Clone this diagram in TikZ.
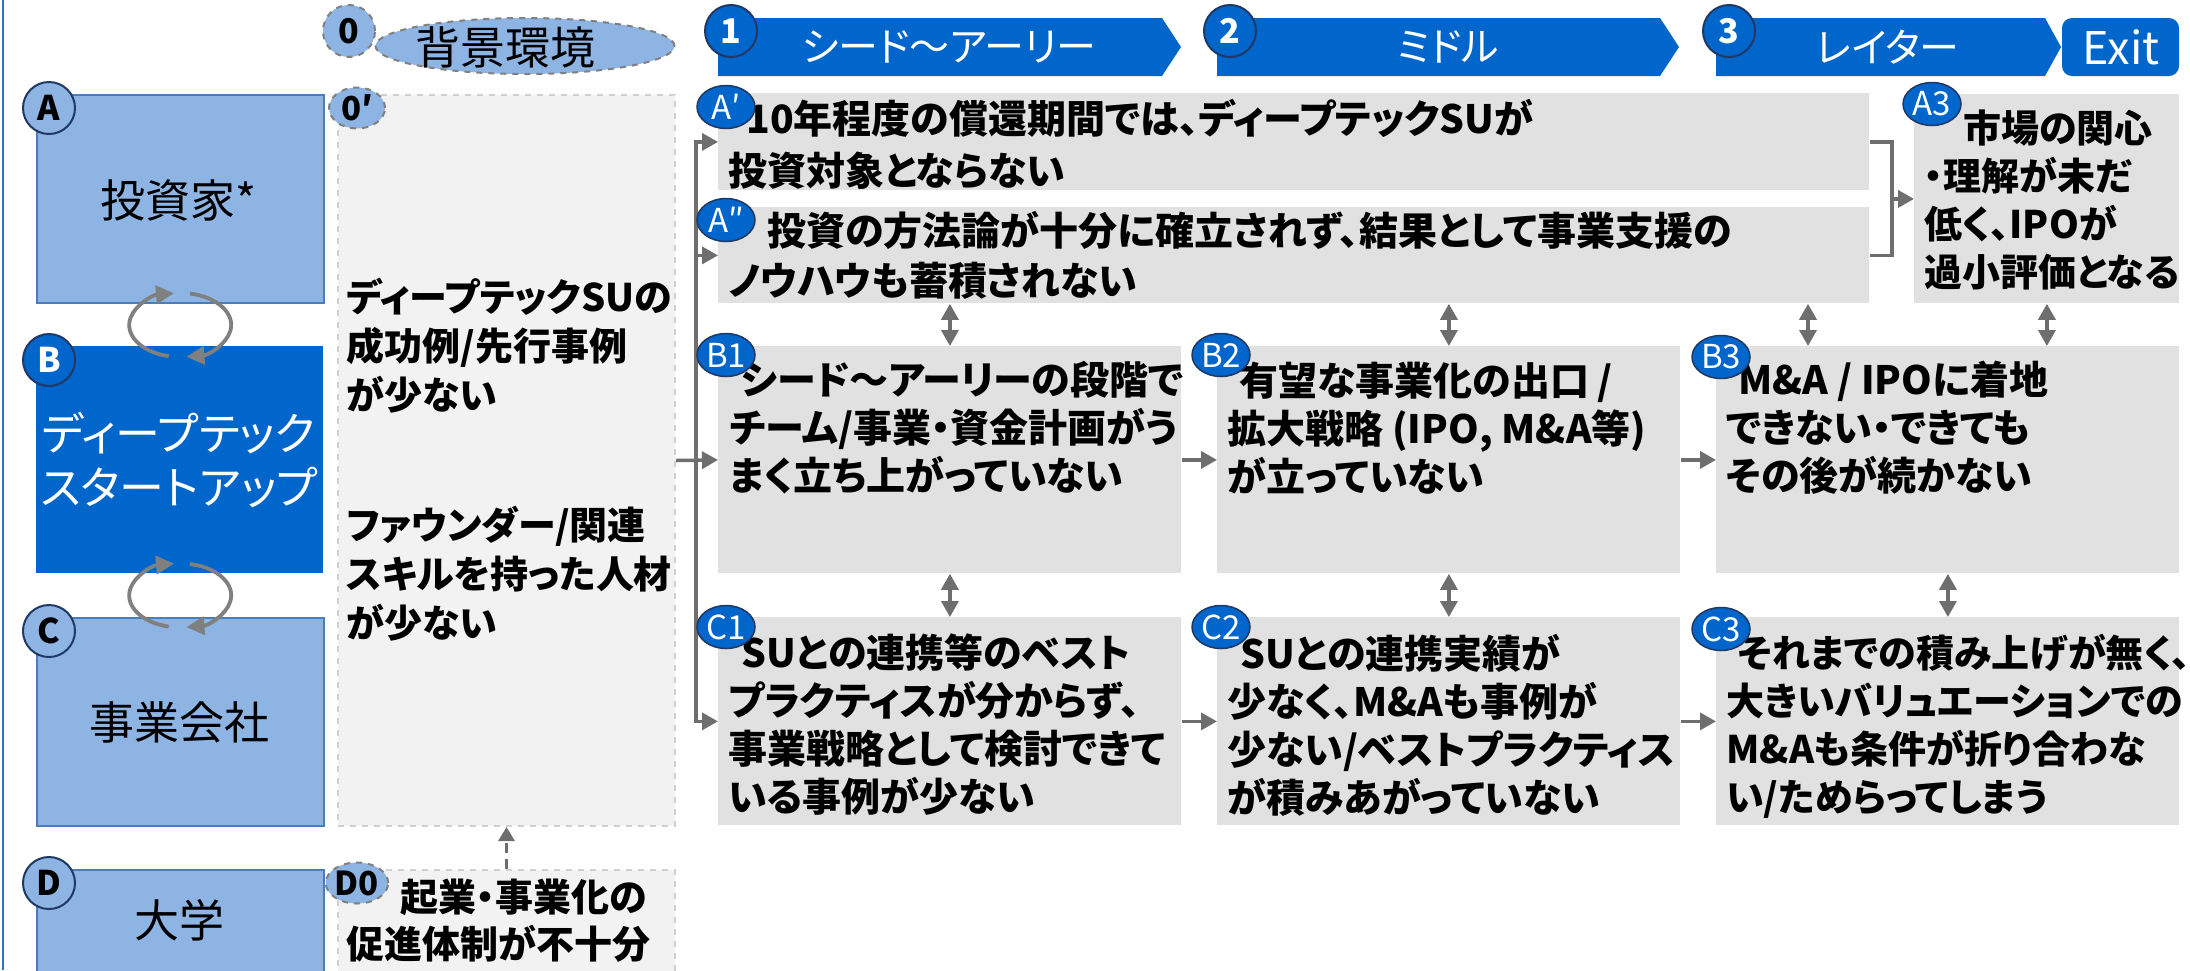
\documentclass[tikz,border=0pt]{standalone}
\usepackage{fontspec}
\setmainfont{Noto Sans CJK JP}[RawFeature=+palt]
\usetikzlibrary{arrows.meta,shapes.geometric,calc}
\definecolor{dblue}{HTML}{0066CC}
\definecolor{lblue}{HTML}{8EB4E3}
\definecolor{bordblue}{HTML}{4A7EBB}
\definecolor{navy}{HTML}{203864}
\definecolor{gbox}{HTML}{E1E1E1}
\definecolor{gbg}{HTML}{F2F2F2}
\definecolor{gdash}{HTML}{D0D0D0}
\definecolor{arrgray}{HTML}{6E6E6E}
\definecolor{cycgray}{HTML}{808080}
\definecolor{edgeblue}{HTML}{2E75B6}
\begin{document}
\begin{tikzpicture}[x=0.5pt,y=-0.5pt,
  every node/.style={inner sep=0pt},
  actor/.style={draw=bordblue,line width=1pt,fill=lblue,anchor=north west,minimum width=143.5pt},
  actorB/.style={fill=dblue,anchor=north west,minimum width=143.5pt},
  bgbox/.style={draw=gdash,dashed,line width=1pt,fill=gbg,anchor=north west,minimum width=168.5pt},
  gb/.style={fill=gbox,anchor=north west},
  lab/.style={circle,minimum size=26pt,line width=1pt,font=\bfseries\fontsize{17pt}{17pt}\selectfont},
  labL/.style={lab,fill=lblue,draw=navy},
  labD/.style={lab,fill=dblue,draw=navy,text=white},
  labZ/.style={lab,fill=lblue,draw=cycgray,dashed},
  ovl/.style={ellipse,minimum width=29pt,minimum height=21.5pt,line width=0.75pt,fill=dblue,draw=navy,text=white,font=\fontsize{16.5pt}{16.5pt}\selectfont},
  ovlZ/.style={ellipse,minimum width=28pt,minimum height=20.5pt,line width=1pt,fill=lblue,draw=cycgray,dashed,font=\bfseries\fontsize{16.5pt}{16.5pt}\selectfont},
  btxt/.style={font=\bfseries\fontsize{19.5pt}{24pt}\selectfont,align=left,anchor=west},
  stxt/.style={btxt,font=\bfseries\fontsize{19pt}{24pt}\selectfont},
  ttl/.style={font=\fontsize{22.5pt}{27pt}\selectfont,align=center},
  ban/.style={font=\fontsize{20pt}{20pt}\selectfont,text=white},
  ln/.style={draw=arrgray,line width=1.75pt},
  arr/.style={ln,-{Triangle[length=8pt,width=8.5pt]}},
  darr/.style={ln,{Triangle[length=8pt,width=8.5pt]}-{Triangle[length=8pt,width=8.5pt]}},
  cyc/.style={draw=cycgray,line width=1.9pt,-{Triangle[length=9pt,width=9pt]}},
  dasharr/.style={draw=arrgray,line width=1.5pt,dash pattern=on 5pt off 3pt,-{Triangle[length=7pt,width=8pt]}}
]
\useasboundingbox (0,0) rectangle (2190,970);
\clip (0,0) rectangle (2190,970);
\fill[white] (0,0) rectangle (2190,970);
\draw[edgeblue,line width=1pt] (3,0) -- (3,970);

% left actors
\node[actor,minimum height=104pt] (A) at (36,94) {};
\node[actorB,minimum height=113.5pt] (B) at (36,346) {};
\node[actor,minimum height=104pt] (C) at (36,617) {};
\node[actor,minimum height=62pt] (D) at (36,869) {};
\node[ttl] (tA) at (179,200) {投資家*};
\node[ttl,text=white] (tB) at (179,460) {ディープテック\\スタートアップ};
\node[ttl] (tC) at (179,722) {事業会社};
\node[ttl] (tD) at (179,920) {大学};

% background column
\node[ellipse,minimum width=149.5pt,minimum height=28pt,fill=lblue,draw=cycgray,dashed,line width=1pt] (bg) at (525,46) {};
\node[ttl] (tbg) at (505,47) {背景環境};
\node[bgbox,minimum height=365.5pt] (op) at (337,94) {};
\node[bgbox,minimum height=62pt] (Dz) at (337,869) {};
\node[btxt,font=\bfseries\fontsize{19pt}{24.5pt}\selectfont] (top1) at (346,346) {ディープテックSUの\\成功例/先行事例\\が少ない};
\node[btxt,font=\bfseries\fontsize{19pt}{24.5pt}\selectfont] (top2) at (346,574) {ファウンダー/関連\\スキルを持った人材\\が少ない};
\node[btxt,font=\bfseries\fontsize{19pt}{23.5pt}\selectfont] (tDz) at (346,921) {\hspace*{27pt}起業・事業化の\\促進体制が不十分};

% banners
\fill[dblue] (718,18) -- (1162,18) -- (1181,47) -- (1162,76) -- (718,76) -- cycle;
\fill[dblue] (1217,18) -- (1660,18) -- (1679,47) -- (1660,76) -- (1217,76) -- cycle;
\fill[dblue] (1716,18) -- (2045,18) -- (2061,47) -- (2045,76) -- (1716,76) -- cycle;
\fill[dblue,rounded corners=5pt] (2062,18) rectangle (2179,76);
\node[ban] (ph1) at (949,47) {シード〜アーリー};
\node[ban] (ph2) at (1448,47) {ミドル};
\node[ban] (ph3) at (1888,47) {レイター};
\node[ban,font=\fontsize{22.5pt}{22.5pt}\selectfont] (ph4) at (2121,47) {Exit};

% grey boxes
\node[gb,minimum width=575.5pt,minimum height=48.5pt] (A1) at (718,93) {};
\node[gb,minimum width=575.5pt,minimum height=48pt] (A2) at (718,207) {};
\node[gb,minimum width=132.5pt,minimum height=104.5pt] (A3) at (1914,94) {};
\node[gb,minimum width=231.5pt,minimum height=113.5pt] (B1) at (718,346) {};
\node[gb,minimum width=231.5pt,minimum height=113.5pt] (B2) at (1217,346) {};
\node[gb,minimum width=231.5pt,minimum height=113.5pt] (B3) at (1716,346) {};
\node[gb,minimum width=231.5pt,minimum height=104pt] (C1) at (718,617) {};
\node[gb,minimum width=231.5pt,minimum height=104pt] (C2) at (1217,617) {};
\node[gb,minimum width=231.5pt,minimum height=104pt] (C3) at (1716,617) {};

\node[btxt,font=\bfseries\fontsize{19.5pt}{26pt}\selectfont] (tA1) at (728,144) {\hspace*{9pt}10年程度の償還期間では、ディープテックSUが\\投資対象とならない};
\node[btxt,font=\bfseries\fontsize{19.5pt}{25pt}\selectfont] (tA2) at (728,255) {\hspace*{19.5pt}投資の方法論が十分に確立されず、結果として事業支援の\\ノウハウも蓄積されない};
\node[stxt] (tA3) at (1924,200) {\hspace*{19.5pt}市場の関心\\・理解が未だ\\低く、IPOが\\過小評価となる};
\node[btxt] (tB1) at (729,428) {\hspace*{6pt}シード〜アーリーの段階で\\チーム/事業・資金計画がう\\まく立ち上がっていない};
\node[btxt] (tB2) at (1227,428) {\hspace*{6pt}有望な事業化の出口 /\\拡大戦略 (IPO, M\&A等)\\が立っていない};
\node[btxt] (tB3) at (1726,428) {\hspace*{6pt}M\&A / IPOに着地\\できない・できても\\その後が続かない};
\node[btxt] (tC1) at (728,725) {\hspace*{6.5pt}SUとの連携等のベスト\\プラクティスが分からず、\\事業戦略として検討できて\\いる事例が少ない};
\node[btxt] (tC2) at (1227,725) {\hspace*{6.5pt}SUとの連携実績が\\少なく、M\&Aも事例が\\少ない/ベストプラクティス\\が積みあがっていない};
\node[stxt] (tC3) at (1726,726) {\hspace*{6pt}それまでの積み上げが無く、\\大きいバリュエーションでの\\M\&Aも条件が折り合わな\\い/ためらってしまう};

% connectors
\coordinate (tk) at (696,460);
\draw[arr] (op.east) -- (B1.west);
\draw[arr] (tk |- B1.west) |- (A1.west);
\draw[arr] (tk |- B1.west) |- (C1.west);
\draw[arr] (tk |- A2.west) -- (A2.west);
\draw[arr] (B1.east) -- (B2.west);
\draw[arr] (B2.east) -- (B3.west);
\draw[arr] (C1.east) -- (C2.west);
\draw[arr] (C2.east) -- (C3.west);
\coordinate (br) at (1892,199);
\draw[ln] (A1.east) -| (br |- A2.east) -- (A2.east);
\draw[arr] (br |- A3.west) -- (A3.west);
\coordinate (x3) at (1808,0);
\draw[darr] (A2.south -| B1.north) -- (B1.north);
\draw[darr] (A2.south -| B2.north) -- (B2.north);
\draw[darr] (A2.south -| x3) -- (B3.north -| x3);
\draw[darr] (A3.south) -- (A3.south |- B3.north);
\draw[darr] (B1.south) -- (C1.north);
\draw[darr] (B2.south) -- (C2.north);
\draw[darr] (B3.south) -- (C3.north);
\draw[dasharr] (Dz.north) -- (op.south);

% cycles
\coordinate (cy1) at ($(A.south)!0.5!(B.north)$);
\coordinate (cy2) at ($(B.south)!0.5!(C.north)$);
\foreach \c in {cy1,cy2}{
  \draw[cyc] ($(\c)+(257:25.5pt and 16pt)$) arc[start angle=257,end angle=97,x radius=25.5pt,y radius=16pt];
  \draw[cyc] ($(\c)+(79:25.5pt and 16pt)$) arc[start angle=79,end angle=-83,x radius=25.5pt,y radius=16pt];
}

% labels
\node[labL] (lA) at (49,108) {A};
\node[labD] (lB) at (49,360) {B};
\node[labL] (lC) at (49,631) {C};
\node[labL] (lD) at (49,883) {D};
\node[labZ] (l0) at (349,31) {0};
\node[ovlZ] (l0p) at (357,108) {0′};
\node[ovlZ] (lD0) at (357,883) {D0};
\node[labD] (l1) at (731,31) {1};
\node[labD] (l2) at (1230,31) {2};
\node[labD] (l3) at (1729,31) {3};
\node[ovl] (lA1) at (726,107) {A′};
\node[ovl] (lA2) at (726,220) {A″};
\node[ovl] (lA3) at (1932,104) {A3};
\node[ovl] (lB1) at (726,355) {B1};
\node[ovl] (lB2) at (1221,355) {B2};
\node[ovl] (lB3) at (1721,357) {B3};
\node[ovl] (lC1) at (726,627) {C1};
\node[ovl] (lC2) at (1221,627) {C2};
\node[ovl] (lC3) at (1721,629) {C3};
\end{tikzpicture}
\end{document}
